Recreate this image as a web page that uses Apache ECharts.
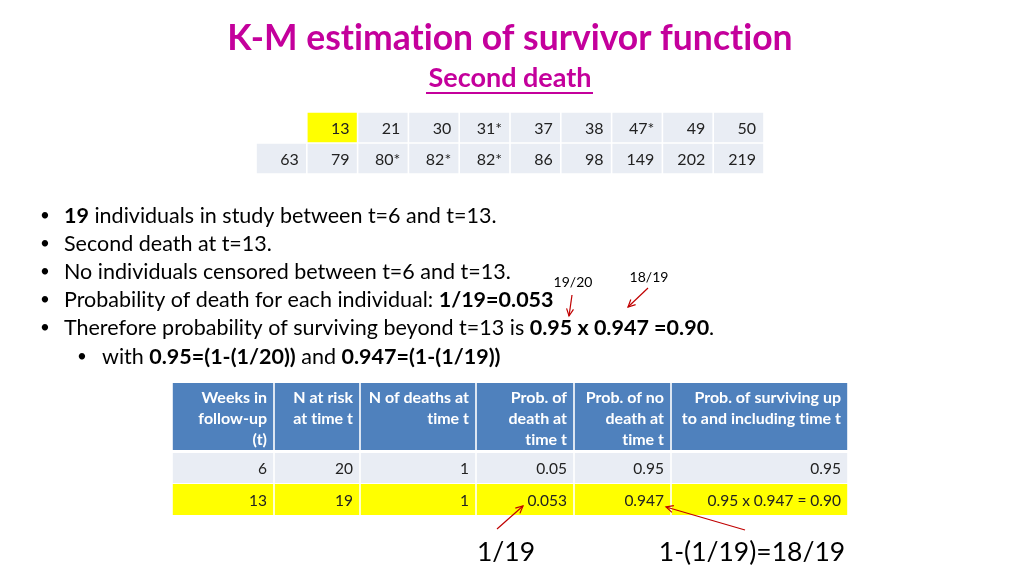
<!DOCTYPE html>
<html><head><meta charset="utf-8">
<script src="https://cdn.jsdelivr.net/npm/echarts@6/dist/echarts.min.js"></script>
<style>html,body{margin:0;padding:0;background:#fff}#c{width:1024px;height:576px}</style>
</head><body><div id="c"></div>
<script>
// ---------------- data ----------------
const titleText = 'K-M estimation of survivor function';
const subtitleText = 'Second death';
const timesRow1 = ['', '13', '21', '30', '31*', '37', '38', '47*', '49', '50'];
const timesRow2 = ['63', '79', '80*', '82*', '82*', '86', '98', '149', '202', '219'];
const highlightedTime = '13';

const tableHeaders = ['Weeks in\nfollow-up\n(t)', 'N at risk\nat time t', 'N of deaths at\ntime t',
  'Prob. of\ndeath at\ntime t', 'Prob. of no\ndeath at\ntime t', 'Prob. of surviving up\nto and including time t'];
const weeks = ['6', '13'];
const nAtRisk = ['20', '19'];
const nDeaths = ['1', '1'];
const probDeath = ['0.05', '0.053'];
const probNoDeath = ['0.95', '0.947'];
const probSurvival = ['0.95', '0.95 x 0.947 = 0.90'];
const highlightedRow = 1;

const bulletLines = [
  [['b', '19'], ['n', ' individuals in study between t=6 and t=13.']],
  [['n', 'Second death at t=13.']],
  [['n', 'No individuals censored between t=6 and t=13.']],
  [['n', 'Probability of death for each individual: '], ['b', '1/19=0.053']],
  [['n', 'Therefore probability of surviving beyond t=13 is '], ['b', '0.95 x 0.947 =0.90'], ['n', '.']],
  [['n', 'with '], ['b', '0.95=(1-(1/20))'], ['n', ' and '], ['b', '0.947=(1-(1/19))']]
];
const bulletLevels = [0, 0, 0, 0, 0, 1];
const noteSmall = ['19/20', '18/19'];
const noteLarge = ['1/19', '1-(1/19)=18/19'];

// ---------------- styles / layout ----------------
const FONT = 'Lato, "Open Sans", sans-serif';
const MAGENTA = '#C4009C';
const GREY = '#E9EDF4';
const YELLOW = '#FFFF00';
const BLUE = '#4F81BD';
const TXT = '#222222';
const RED = '#C00000';

// avoid Lato ligatures (ti, fi, fl) that the reference font does not show
const noLig = s => s.replace(/([tf])([ilf])/g, '$1\u200C$2');

const colEdges = [0, 102, 188, 304, 402, 499, 676];
const rowBands = [[0, 67], [70, 100], [101, 132]];

// build table data
const topData = [];
timesRow1.forEach((v, i) => { if (v !== '') topData.push({ value: [i, 0], label: v }); });
timesRow2.forEach((v, i) => topData.push({ value: [i, 1], label: v }));

const bodyCols = [weeks, nAtRisk, nDeaths, probDeath, probNoDeath, probSurvival];
const kmData = [];
tableHeaders.forEach((h, c) => kmData.push({ value: [c, 0], label: h }));
for (let r = 0; r < weeks.length; r++) {
  bodyCols.forEach((col, c) => kmData.push({ value: [c, r + 1], label: col[r] }));
}

function renderTop(params, api) {
  const d = topData[params.dataIndex];
  const p = api.coord([api.value(0), api.value(1)]);
  const s = api.size([1, 1]);
  const g = 0.8;
  return {
    type: 'group', children: [
      { type: 'rect', shape: { x: p[0] - s[0] / 2 + g, y: p[1] - s[1] / 2 + g, width: s[0] - 2 * g, height: s[1] - 2 * g },
        style: { fill: d.label === highlightedTime && api.value(1) === 0 ? YELLOW : GREY } },
      { type: 'text', style: { text: d.label, x: p[0] + s[0] / 2 - 8, y: p[1] + 1, align: 'right', textAlign: 'right',
        verticalAlign: 'middle', textVerticalAlign: 'middle', fontSize: 16, fontFamily: FONT, fill: TXT } }
    ]
  };
}

function renderKM(params, api) {
  const d = kmData[params.dataIndex];
  const c = api.value(0), r = api.value(1);
  const p0 = api.coord([colEdges[c], rowBands[r][0]]);
  const p1 = api.coord([colEdges[c + 1], rowBands[r][1]]);
  const g = 0.8;
  const fill = r === 0 ? BLUE : (r - 1 === highlightedRow ? YELLOW : GREY);
  const isHead = r === 0;
  const style = isHead ? {
    text: '{h|' + noLig(d.label).split('\n').join('}\n{h|') + '}',
    rich: { h: { fontSize: 16, fontWeight: 'bold', fontFamily: FONT, color: '#ffffff', lineHeight: 21, align: 'right' } },
    x: p1[0] - 7, y: p0[1] + 4, align: 'right', textAlign: 'right', verticalAlign: 'top', textVerticalAlign: 'top',
    fontSize: 16, fontWeight: 'bold', fontFamily: FONT, fill: '#ffffff'
  } : {
    text: d.label, x: p1[0] - 7, y: (p0[1] + p1[1]) / 2 + 1,
    align: 'right', textAlign: 'right', verticalAlign: 'middle', textVerticalAlign: 'middle',
    fontSize: 15.5, fontFamily: FONT, fill: TXT
  };
  return {
    type: 'group', children: [
      { type: 'rect', shape: { x: p0[0] + g, y: p0[1], width: p1[0] - p0[0] - 2 * g, height: p1[1] - p0[1] }, style: { fill } },
      { type: 'text', style }
    ]
  };
}

function arrow(x1, y1, x2, y2) {
  const a = Math.atan2(y2 - y1, x2 - x1), L = 8, s = 0.45;
  return {
    type: 'group', silent: true, z: 100, children: [
      { type: 'line', z: 100, shape: { x1, y1, x2, y2 }, style: { stroke: RED, lineWidth: 1.2 } },
      { type: 'polyline', z: 100, shape: { points: [[x2 - L * Math.cos(a - s), y2 - L * Math.sin(a - s)], [x2, y2], [x2 - L * Math.cos(a + s), y2 - L * Math.sin(a + s)]] },
        style: { stroke: RED, lineWidth: 1.2, fill: 'none' } }
    ]
  };
}

function txt(text, x, y, size, weight, align) {
  return { type: 'text', z: 100, style: { text: noLig(text), x, y, align: align || 'center', textAlign: align || 'center',
    verticalAlign: 'middle', textVerticalAlign: 'middle', fontSize: size, fontWeight: weight || 'normal', fontFamily: FONT, fill: '#000' } };
}

const bulletY = [216, 244, 272, 300, 328, 357];
const BS = 21.5;
const graphics = [];
const t1 = txt(titleText, 510, 39, 35.5, 'bold'); t1.style.fill = MAGENTA; graphics.push(t1);
const t2 = txt(subtitleText, 510, 78, 27, 'bold'); t2.style.fill = MAGENTA; graphics.push(t2);
graphics.push({ type: 'line', z: 100, shape: { x1: 426, y1: 93, x2: 593, y2: 93 }, style: { stroke: MAGENTA, lineWidth: 1.8 } });

bulletLines.forEach((segs, i) => {
  const lvl = bulletLevels[i];
  const bx = lvl === 0 ? 45 : 82, tx = lvl === 0 ? 64 : 102;
  graphics.push(txt('•', bx, bulletY[i], 17));
  graphics.push({ type: 'text', z: 100, style: {
    text: segs.map(s => '{' + s[0] + '|' + noLig(s[1]) + '}').join(''), x: tx, y: bulletY[i], align: 'left', textAlign: 'left',
    verticalAlign: 'middle', textVerticalAlign: 'middle', fontSize: BS, fontFamily: FONT, fill: '#000',
    rich: { n: { fontSize: BS, fontFamily: FONT, color: '#000' }, b: { fontSize: BS, fontFamily: FONT, fontWeight: 'bold', color: '#000' } }
  } });
});

graphics.push(txt(noteSmall[0], 573, 282, 14));
graphics.push(txt(noteSmall[1], 649, 277, 14));
graphics.push(arrow(572, 295, 569, 316));
graphics.push(arrow(648, 288, 628, 307));
graphics.push(txt(noteLarge[0], 506, 552, 26.5));
graphics.push(txt(noteLarge[1], 752, 552, 26.5));
graphics.push(arrow(497, 529, 523, 506));
graphics.push(arrow(745, 530, 666, 507));

const chart = echarts.init(document.getElementById('c'), null, { renderer: 'canvas' });
chart.setOption({
  animation: false,
  backgroundColor: '#ffffff',
  grid: [
    { left: 256, top: 112, width: 508, height: 62 },
    { left: 172, top: 383, width: 676, height: 132 }
  ],
  xAxis: [
    { gridIndex: 0, type: 'category', data: timesRow2.map((_, i) => String(i)), show: false },
    { gridIndex: 1, type: 'value', min: 0, max: 676, show: false }
  ],
  yAxis: [
    { gridIndex: 0, type: 'category', data: ['row1', 'row2'], inverse: true, show: false },
    { gridIndex: 1, type: 'value', min: 0, max: 132, inverse: true, show: false }
  ],
  series: [
    { type: 'custom', xAxisIndex: 0, yAxisIndex: 0, renderItem: renderTop, data: topData.map(d => d.value), silent: true },
    { type: 'custom', xAxisIndex: 1, yAxisIndex: 1, renderItem: renderKM, data: kmData.map(d => d.value), silent: true }
  ],
  graphic: { elements: graphics }
});
</script></body></html>
